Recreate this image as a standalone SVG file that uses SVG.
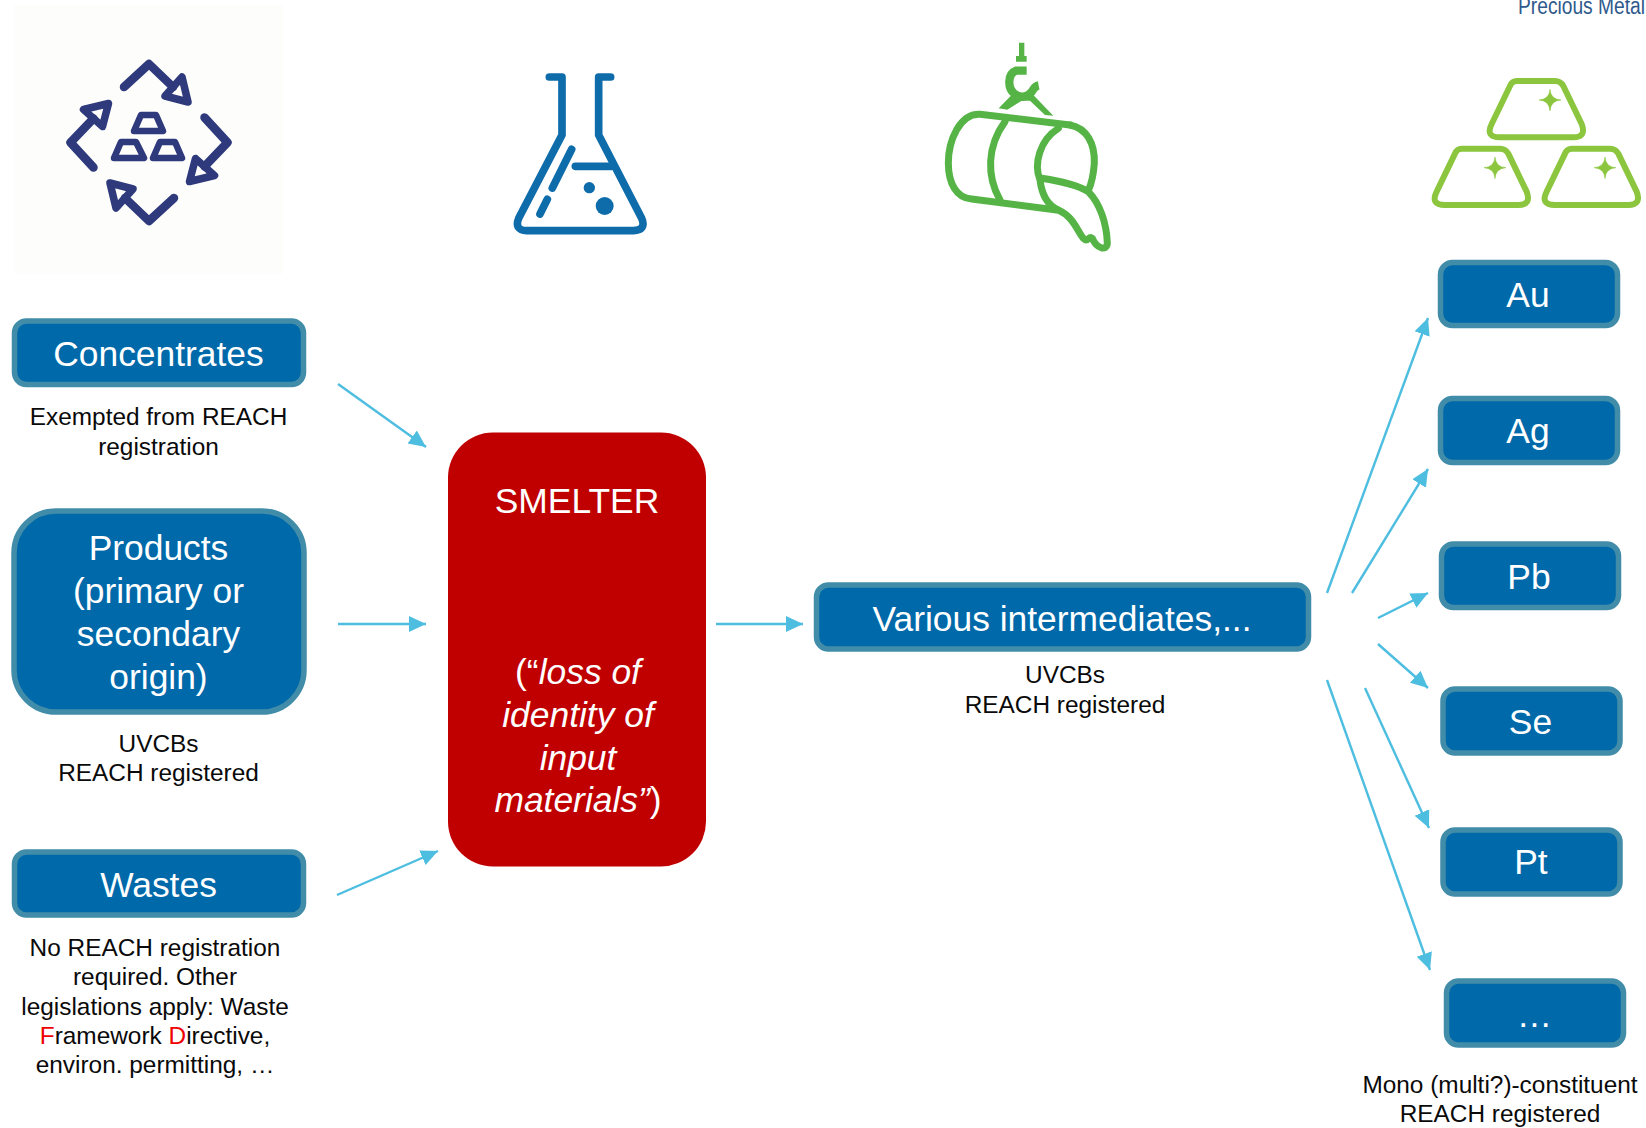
<svg xmlns="http://www.w3.org/2000/svg" xmlns:xlink="http://www.w3.org/1999/xlink" width="1646" height="1128" viewBox="0 0 1646 1128">
<style>
text{font-family:"Liberation Sans",Arial,sans-serif;text-anchor:middle}
.box{fill:#0069aa;stroke:#418ca8;stroke-width:5.5}
.big{font-size:35.400px;fill:#fff}
.note{font-size:24.400px;fill:#0a0a0a}
.conn{fill:none;stroke:#4dbde0;stroke-width:2.400;marker-end:url(#arr)}
.ico{fill:none;stroke-linecap:round;stroke-linejoin:round}
</style>
<defs>
<marker id="arr" markerUnits="userSpaceOnUse" markerWidth="19" markerHeight="19" refX="17" refY="8.500" orient="auto"><path d="M0 0.500L17 8.500L0 16.500Z" fill="#4dbde0"/></marker>
<g id="loop"><path d="M123 87L148 64L172 87" class="ico" stroke="#2e3a7c" stroke-width="8.500"/><path d="M187 102L164 96L181 77Z" class="ico" stroke="#2e3a7c" stroke-width="7.500"/></g>
<g id="gold"><path d="M320 243H435Q452 243 460 258L515 372Q530 412 490 412H270Q225 412 245 372L300 258Q306 243 320 243Z" class="ico" stroke="#8cc63f" stroke-width="18"/><path d="M420 268Q422 298 453 300Q422 302 420 333Q418 302 387 300Q418 298 420 268Z" fill="#8cc63f" stroke="#8cc63f" stroke-width="1.500"/></g>
</defs>
<rect width="1646" height="1128" fill="#fff"/>
<g id="icon-recycle">
<rect x="14" y="5" width="269" height="269" fill="#fdfdfb"/>
<g transform="translate(1 0)">
<use href="#loop"/>
<use href="#loop" transform="rotate(90 148 142.500)"/>
<use href="#loop" transform="rotate(180 148 142.500)"/>
<use href="#loop" transform="rotate(270 148 142.500)"/>
</g>
<path d="M141 115H156L163 131H134Z" class="ico" stroke="#2e3a7c" stroke-width="6.500"/>
<path d="M121 142H136L144 158H114Z" class="ico" stroke="#2e3a7c" stroke-width="6.500"/>
<path d="M160 142H175L182 158H153Z" class="ico" stroke="#2e3a7c" stroke-width="6.500"/>
</g>
<g id="icon-flask" transform="translate(490 40) scale(.33333)">
<g class="ico" stroke="#0e6cab" stroke-width="23">
<path d="M178 111H216V285L86 535Q72 570 110 572H430Q470 570 455 535L326 285V111H362"/>
<path d="M256 379H365M187 444L245 328M150 522L172 478"/>
</g>
<circle cx="298" cy="443" r="17" fill="#0e6cab"/><circle cx="344" cy="498" r="27" fill="#0e6cab"/>
</g>
<g id="icon-pour" transform="translate(930 30) scale(.33333)">
<g class="ico" stroke="#56b447" stroke-width="21">
<path d="M420 285L150 253C90 250 55 330 55 400C55 460 80 505 125 507L380 540"/>
<path d="M420 285C470 295 495 340 493 400C490 440 485 460 475 482"/>
<path d="M225 275C170 350 170 440 210 510"/>
<path d="M385 295C330 330 310 400 330 450C335 490 350 525 385 540C430 560 440 600 460 625C475 640 475 615 487 625C500 655 530 665 532 640C530 580 510 520 475 485C450 470 400 455 335 445"/>
</g>
<path d="M267 38H283V78H290V95H258V78H267Z" fill="#56b447"/>
<path d="M290 122H258C232 132 232 175 254 192C272 206 297 202 310 178Q316 168 326 166" fill="none" stroke="#56b447" stroke-width="25" stroke-linecap="butt"/>
<path d="M250 190L206 235L232 239L275 212L300 212L345 255L370 257L310 195Z" fill="#56b447"/>
</g>
<g id="icon-gold" transform="translate(1410 0) scale(.33333)">
<use href="#gold" x="0" y="0"/>
<use href="#gold" x="-165" y="203"/>
<use href="#gold" x="165" y="203"/>
</g>
<text id="logo-text" x="1581.500" y="14" textLength="127" lengthAdjust="spacingAndGlyphs" style="font-size:23px;fill:#2f5a8c">Precious Metal</text>
<g id="connectors">
<path class="conn" d="M338 384L426 447"/>
<path class="conn" d="M338 624H426"/>
<path class="conn" d="M337 895L438 851"/>
<path class="conn" d="M716 624H803"/>
<path class="conn" d="M1327 593L1428 318"/>
<path class="conn" d="M1352 593L1428 469"/>
<path class="conn" d="M1378 618L1428 593"/>
<path class="conn" d="M1378 644L1428 688"/>
<path class="conn" d="M1365 688L1429 828"/>
<path class="conn" d="M1327 680L1430 970"/>
</g>
<g id="node-concentrates">
<rect class="box" x="14.500" y="321" width="289" height="63.500" rx="12"/>
<text class="big" x="158.500" y="366">Concentrates</text>
<text class="note" x="158.500" y="425">Exempted from REACH</text>
<text class="note" x="158.500" y="455">registration</text>
</g>
<g id="node-products">
<rect class="box" x="14" y="511" width="290" height="201" rx="42"/>
<text class="big" x="158.500" y="560">Products</text>
<text class="big" x="158.500" y="603">(primary or</text>
<text class="big" x="158.500" y="646">secondary</text>
<text class="big" x="158.500" y="689">origin)</text>
<text class="note" x="158.500" y="752">UVCBs</text>
<text class="note" x="158.500" y="781">REACH registered</text>
</g>
<g id="node-wastes">
<rect class="box" x="14.500" y="852" width="289" height="63" rx="12"/>
<text class="big" x="158.500" y="896.500">Wastes</text>
<text class="note" x="155" y="956">No REACH registration</text>
<text class="note" x="155" y="985">required. Other</text>
<text class="note" x="155" y="1014.500">legislations apply: Waste</text>
<text class="note" x="155" y="1043.500"><tspan fill="#f00000">F</tspan>ramework <tspan fill="#f00000">D</tspan>irective,</text>
<text class="note" x="155" y="1073">environ. permitting, …</text>
</g>
<g id="node-smelter">
<rect x="448" y="432.500" width="258" height="434" rx="45" fill="#c00000"/>
<text class="big" x="577" y="513">SMELTER</text>
<text class="big" x="578" y="684">(“<tspan font-style="italic">loss of</tspan></text>
<text class="big" x="578" y="727" font-style="italic">identity of</text>
<text class="big" x="578" y="770" font-style="italic">input</text>
<text class="big" x="578" y="812"><tspan font-style="italic">materials”</tspan>)</text>
</g>
<g id="node-intermediates">
<rect class="box" x="816.500" y="585" width="492" height="64" rx="12"/>
<text class="big" x="1062" y="630.500">Various intermediates,...</text>
<text class="note" x="1065" y="682.500">UVCBs</text>
<text class="note" x="1065" y="712.500">REACH registered</text>
</g>
<g id="node-au"><rect class="box" x="1440.500" y="262.500" width="177" height="63" rx="12"/><text class="big" x="1528" y="307">Au</text></g>
<g id="node-ag"><rect class="box" x="1440.500" y="398.500" width="177" height="64" rx="12"/><text class="big" x="1528" y="443">Ag</text></g>
<g id="node-pb"><rect class="box" x="1441.500" y="544" width="177" height="63.500" rx="12"/><text class="big" x="1529" y="589">Pb</text></g>
<g id="node-se"><rect class="box" x="1443" y="689" width="177" height="64" rx="12"/><text class="big" x="1530.500" y="734">Se</text></g>
<g id="node-pt"><rect class="box" x="1443" y="830" width="177" height="64" rx="12"/><text class="big" x="1531" y="874">Pt</text></g>
<g id="node-etc"><rect class="box" x="1446.500" y="981" width="177" height="64" rx="12"/><text class="big" x="1534.500" y="1027">…</text></g>
<g id="note-mono">
<text class="note" x="1500" y="1093">Mono (multi?)-constituent</text>
<text class="note" x="1500" y="1122">REACH registered</text>
</g>
</svg>
